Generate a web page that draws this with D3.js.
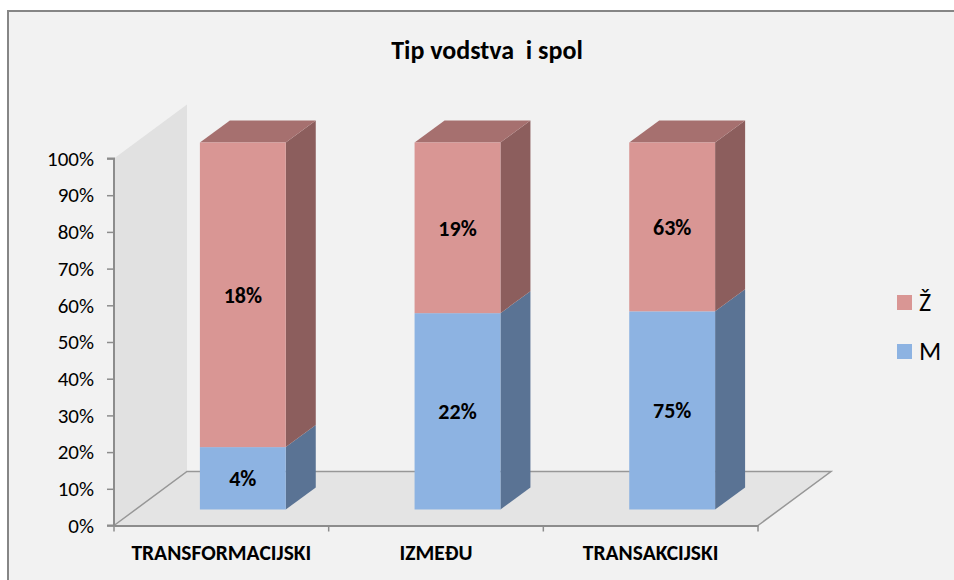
<!DOCTYPE html>
<html>
<head>
<meta charset="utf-8">
<script src="https://cdn.jsdelivr.net/npm/d3@7"></script>
<style>
  html, body { margin: 0; padding: 0; background: #fff; }
  svg { display: block; }
  text { font-family: Carlito, "Liberation Sans", "Open Sans", sans-serif; fill: #000; }
</style>
</head>
<body>
<svg id="chart" width="954" height="580"></svg>
<script>
// Values
const categories = ["TRANSFORMACIJSKI", "IZMEĐU", "TRANSAKCIJSKI"];
const shareM = [17, 53.5, 54];   // height of the blue part, in % of the column
const labelsM = ["4%", "22%", "75%"];
const labelsZ = ["18%", "19%", "63%"];
const yTicks = [0, 10, 20, 30, 40, 50, 60, 70, 80, 90, 100];
const legendItems = ["Ž", "M"];

const colors = {
    Z: { front: "#d99694", top: "#a6706f", side: "#8c5e5d" },
    M: { front: "#8db3e2", top: "#6a86aa", side: "#5a7394" }
};

const svg = d3.select("#chart");

// 3D offsets: floor depth and column depth
const depthX = 73, depthY = 54;
const barDepthX = 30, barDepthY = 22;

const x = d3.scaleBand().domain(categories).range([114, 758]).paddingInner(0.6).paddingOuter(0.3);
const y = d3.scaleLinear().domain([0, 100]).range([525.5, 158.5]);

// Frame, its right and bottom edges fall outside the picture
svg.append("rect")
    .attr("x", 8).attr("y", 11).attr("width", 960).attr("height", 590)
    .attr("fill", "#f2f2f2").attr("stroke", "#868686").attr("stroke-width", 2);

// Title
svg.append("text")
    .attr("x", 487).attr("y", 59).attr("text-anchor", "middle")
    .attr("font-size", 26).attr("font-weight", "bold")
    .attr("xml:space", "preserve").style("white-space", "pre")
    .text("Tip vodstva  i spol");

function poly(points) {
    return points.map(p => p.join(",")).join(" ");
}

// Back wall and floor
const x0 = x.range()[0], x1 = x.range()[1];
svg.append("polygon")
    .attr("points", poly([[x0, y(100)], [x0 + depthX, y(100) - depthY], [x0 + depthX, y(0) - depthY], [x0, y(0)]]))
    .attr("fill", "#e1e1e1");
svg.append("polygon")
    .attr("points", poly([[x0, y(0)], [x0 + depthX, y(0) - depthY], [x1 + depthX, y(0) - depthY], [x1, y(0)]]))
    .attr("fill", "#e4e4e4");
svg.append("polyline")
    .attr("points", poly([[x0, y(0)], [x0 + depthX, y(0) - depthY], [x1 + depthX, y(0) - depthY], [x1, y(0)]]))
    .attr("fill", "none").attr("stroke", "#979797").attr("stroke-width", 1.5);

// Axes
const yAxis = svg.append("g")
    .attr("transform", `translate(${x0},0)`)
    .call(d3.axisLeft(y).tickValues(yTicks).tickFormat(d => d + "%").tickSize(7).tickPadding(13));
const xAxis = svg.append("g")
    .attr("transform", `translate(0,${y(0)})`)
    .call(d3.axisBottom(x).tickValues([]).tickSizeOuter(0));
[yAxis, xAxis].forEach(g => {
    g.selectAll(".domain").attr("stroke", "#8c8c8c").attr("stroke-width", 2);
    g.selectAll(".tick line").attr("stroke", "#8c8c8c").attr("stroke-width", 1.5);
});
yAxis.select(".domain").attr("d", `M-7,${y(100)}H0V${y(0)}H-7`);
yAxis.selectAll("text").attr("font-size", 21).attr("fill", "#000").style("font-family", "Carlito, 'Liberation Sans', sans-serif");

// Category ticks and labels
const step = x.step();
d3.range(categories.length + 1).forEach(i => {
    svg.append("line")
        .attr("x1", x0 + i * step).attr("x2", x0 + i * step)
        .attr("y1", y(0)).attr("y2", y(0) + 6)
        .attr("stroke", "#8c8c8c").attr("stroke-width", 1.5);
});
svg.selectAll(".cat").data(categories).join("text")
    .attr("class", "cat")
    .attr("x", (d, i) => x0 + (i + 0.5) * step)
    .attr("y", 560).attr("text-anchor", "middle")
    .attr("font-size", 21.5).attr("font-weight", "bold")
    .text(d => d);

// Columns, each one stands halfway back on the floor
const offX = (depthX - barDepthX) / 2, offY = (depthY - barDepthY) / 2;
categories.forEach((c, i) => {
    const left = x(c) + offX, right = left + x.bandwidth();
    const bottom = y(0) - offY, mid = y(shareM[i]) - offY, top = y(100) - offY;

    function side(yA, yB, fill) {
        svg.append("polygon")
            .attr("points", poly([[right, yA], [right + barDepthX, yA - barDepthY], [right + barDepthX, yB - barDepthY], [right, yB]]))
            .attr("fill", fill);
    }
    side(bottom, mid, colors.M.side);
    side(mid, top, colors.Z.side);
    svg.append("polygon")
        .attr("points", poly([[left, top], [left + barDepthX, top - barDepthY], [right + barDepthX, top - barDepthY], [right, top]]))
        .attr("fill", colors.Z.top);
    svg.append("rect")
        .attr("x", left).attr("y", mid).attr("width", right - left).attr("height", bottom - mid)
        .attr("fill", colors.M.front);
    svg.append("rect")
        .attr("x", left).attr("y", top).attr("width", right - left).attr("height", mid - top)
        .attr("fill", colors.Z.front);

    svg.append("text")
        .attr("x", (left + right) / 2).attr("y", (bottom + mid) / 2 + 8)
        .attr("text-anchor", "middle").attr("font-size", 22).attr("font-weight", "bold")
        .text(labelsM[i]);
    svg.append("text")
        .attr("x", (left + right) / 2).attr("y", (mid + top) / 2 + 8)
        .attr("text-anchor", "middle").attr("font-size", 22).attr("font-weight", "bold")
        .text(labelsZ[i]);
});

// Legend
legendItems.forEach((name, i) => {
    const ly = 295 + i * 49;
    svg.append("rect")
        .attr("x", 897).attr("y", ly).attr("width", 15).attr("height", 15)
        .attr("fill", i === 0 ? colors.Z.front : colors.M.front);
    svg.append("text")
        .attr("x", 919).attr("y", ly + 16)
        .attr("font-size", 26)
        .text(name);
});
</script>
</body>
</html>
